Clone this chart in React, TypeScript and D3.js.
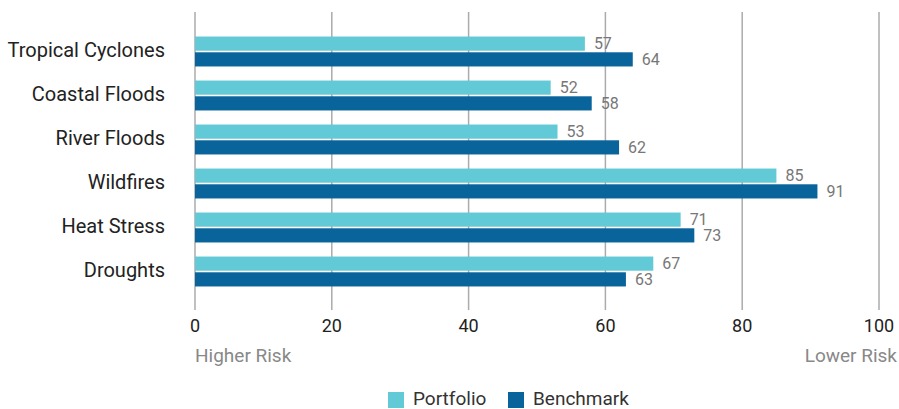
import React, { useEffect, useRef } from "react";
import * as d3 from "d3";

const categories = ["Tropical Cyclones", "Coastal Floods", "River Floods", "Wildfires", "Heat Stress", "Droughts"];
const seriesNames = ["Portfolio", "Benchmark"];
const portfolio = [57, 52, 53, 85, 71, 67];
const benchmark = [64, 58, 62, 91, 73, 63];
const xTicks = [0, 20, 40, 60, 80, 100];
const colors = ["#62c9d6", "#0a649c"];

const App: React.FC = () => {
  const svgRef = useRef<SVGSVGElement | null>(null);

  useEffect(() => {
    if (!svgRef.current) return;
    const svg = d3.select(svgRef.current);
    svg.selectAll("*").remove();
    const font = "Roboto, 'Noto Sans', sans-serif";

    const x = d3.scaleLinear().domain([0, 100]).range([195, 879]);
    const y = d3.scaleBand().domain(categories).range([29.5, 293.5]).paddingInner(0.32).paddingOuter(0.16);
    const ySub = d3.scaleBand().domain(seriesNames).range([0, y.bandwidth()]).paddingInner(0.1);

    // gridlines
    svg.append("g").selectAll("line").data(xTicks).enter().append("line")
      .attr("x1", d => x(d)).attr("x2", d => x(d))
      .attr("y1", 12).attr("y2", 310)
      .attr("stroke", "#ababab").attr("stroke-width", 1.5);

    svg.append("g").selectAll("text").data(xTicks).enter().append("text")
      .attr("x", d => x(d)).attr("y", 332)
      .attr("text-anchor", "middle")
      .style("font-family", font).style("font-size", "18px").style("fill", "#222")
      .text(d => d);

    const rows = categories.map((c, i) => ({ c, vals: [portfolio[i], benchmark[i]] }));

    const g = svg.append("g");
    rows.forEach(r => {
      const y0 = y(r.c) ?? 0;
      r.vals.forEach((v, j) => {
        const yy = y0 + (ySub(seriesNames[j]) ?? 0);
        g.append("rect")
          .attr("x", x(0)).attr("y", yy)
          .attr("width", x(v) - x(0)).attr("height", ySub.bandwidth())
          .attr("fill", colors[j]);
        g.append("text")
          .attr("x", x(v) + 9).attr("y", yy + ySub.bandwidth() / 2)
          .attr("dy", "0.35em")
          .style("font-family", font).style("font-size", "16px").style("fill", "#777")
          .text(v);
      });
      g.append("text")
        .attr("x", 165).attr("y", y0 + y.bandwidth() / 2 - 2)
        .attr("dy", "0.35em").attr("text-anchor", "end")
        .style("font-family", font).style("font-size", "20px").style("fill", "#222")
        .text(r.c);
    });

    svg.append("text").attr("x", x(0)).attr("y", 362)
      .style("font-family", font).style("font-size", "19px").style("fill", "#888")
      .text("Higher Risk");
    svg.append("text").attr("x", 897).attr("y", 362).attr("text-anchor", "end")
      .style("font-family", font).style("font-size", "19px").style("fill", "#888")
      .text("Lower Risk");

    const legendX = [388, 508];
    seriesNames.forEach((s, i) => {
      svg.append("rect").attr("x", legendX[i]).attr("y", 392).attr("width", 16).attr("height", 16).attr("fill", colors[i]);
      svg.append("text").attr("x", legendX[i] + 25).attr("y", 398).attr("dy", "0.35em")
        .style("font-family", font).style("font-size", "19px").style("fill", "#333")
        .text(s);
    });
  }, []);

  return (
    <svg ref={svgRef} width={899} height={409} style={{ position: "absolute", left: 0, top: 0 }} />
  );
};

export default App;
